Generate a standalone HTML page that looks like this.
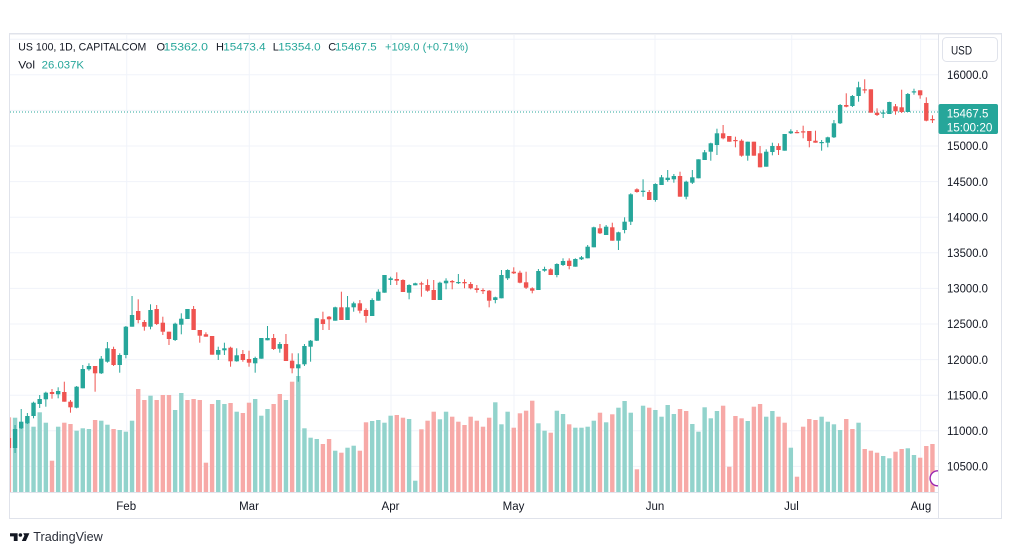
<!DOCTYPE html>
<html>
<head>
<meta charset="utf-8">
<style>
html,body{margin:0;padding:0;background:#fff;width:1012px;height:555px;overflow:hidden;}
svg{position:absolute;left:0;top:0;}
</style>
</head>
<body>
<svg id="s" width="1012" height="555" viewBox="0 0 1012 555" font-family="'Liberation Sans', sans-serif">
<defs><clipPath id="plot"><rect x="10" y="34" width="928" height="458"/></clipPath></defs>
<rect width="1012" height="555" fill="#fff"/>
<!-- grid -->
<g stroke="#f0f3fa" stroke-width="1">
<line x1="10" x2="938" y1="39.2" y2="39.2"/>
<line x1="10" x2="938" y1="74.8" y2="74.8"/>
<line x1="10" x2="938" y1="110.4" y2="110.4"/>
<line x1="10" x2="938" y1="146" y2="146"/>
<line x1="10" x2="938" y1="181.6" y2="181.6"/>
<line x1="10" x2="938" y1="217.2" y2="217.2"/>
<line x1="10" x2="938" y1="252.8" y2="252.8"/>
<line x1="10" x2="938" y1="288.4" y2="288.4"/>
<line x1="10" x2="938" y1="324" y2="324"/>
<line x1="10" x2="938" y1="359.6" y2="359.6"/>
<line x1="10" x2="938" y1="395.2" y2="395.2"/>
<line x1="10" x2="938" y1="430.8" y2="430.8"/>
<line x1="10" x2="938" y1="466.4" y2="466.4"/>
<line y1="34" y2="492" x1="126.7" x2="126.7"/>
<line y1="34" y2="492" x1="249.3" x2="249.3"/>
<line y1="34" y2="492" x1="391" x2="391"/>
<line y1="34" y2="492" x1="514" x2="514"/>
<line y1="34" y2="492" x1="655" x2="655"/>
<line y1="34" y2="492" x1="791.7" x2="791.7"/>
<line y1="34" y2="492" x1="920.6" x2="920.6"/>
</g>
<g id="vol" clip-path="url(#plot)"></g>
<line x1="10" x2="938" y1="112" y2="112" stroke="#26a69a" stroke-width="1" stroke-dasharray="1 2"/>
<g id="cdl" clip-path="url(#plot)"></g>
<g clip-path="url(#plot)"><circle cx="937.6" cy="478.3" r="7.5" fill="#fff" stroke="#9c27b0" stroke-width="1.4"/></g>
<!-- frame and axes -->
<rect x="9.5" y="33.5" width="992" height="485" fill="none" stroke="#e0e3eb"/>
<line x1="10" x2="1001" y1="34.5" y2="34.5" stroke="#f0f1f4"/>
<line x1="938.5" y1="34" x2="938.5" y2="518" stroke="#e0e3eb"/>
<line x1="10" x2="938" y1="492.5" y2="492.5" stroke="#e0e3eb"/>
<!-- legend -->
<g font-size="11" fill="#131722">
<text x="18.3" y="50.7" textLength="128" lengthAdjust="spacingAndGlyphs">US 100, 1D, CAPITALCOM</text>
<text x="156.5" y="50.7">O</text>
<text x="163.5" y="50.7" fill="#26a69a" textLength="44.5" lengthAdjust="spacingAndGlyphs">15362.0</text>
<text x="216" y="50.7">H</text>
<text x="223.3" y="50.7" fill="#26a69a" textLength="42.3" lengthAdjust="spacingAndGlyphs">15473.4</text>
<text x="272.7" y="50.7">L</text>
<text x="278.3" y="50.7" fill="#26a69a" textLength="42.3" lengthAdjust="spacingAndGlyphs">15354.0</text>
<text x="328.3" y="50.7">C</text>
<text x="335" y="50.7" fill="#26a69a" textLength="41.7" lengthAdjust="spacingAndGlyphs">15467.5</text>
<text x="385" y="50.7" fill="#26a69a" textLength="83.3" lengthAdjust="spacingAndGlyphs">+109.0 (+0.71%)</text>
<text x="18.3" y="68.3" textLength="16.7" lengthAdjust="spacingAndGlyphs">Vol</text>
<text x="41.7" y="68.3" fill="#26a69a" textLength="42.3" lengthAdjust="spacingAndGlyphs">26.037K</text>
</g>
<!-- price axis -->
<rect x="942.5" y="37.5" width="55" height="24" rx="4" fill="#fff" stroke="#e0e3eb"/>
<text x="951" y="54.5" font-size="12" fill="#131722" textLength="21" lengthAdjust="spacingAndGlyphs">USD</text>
<g font-size="12" fill="#131722">
<text x="947" y="79" textLength="41" lengthAdjust="spacingAndGlyphs">16000.0</text>
<text x="947" y="150.2" textLength="41" lengthAdjust="spacingAndGlyphs">15000.0</text>
<text x="947" y="185.8" textLength="41" lengthAdjust="spacingAndGlyphs">14500.0</text>
<text x="947" y="221.4" textLength="41" lengthAdjust="spacingAndGlyphs">14000.0</text>
<text x="947" y="257" textLength="41" lengthAdjust="spacingAndGlyphs">13500.0</text>
<text x="947" y="292.6" textLength="41" lengthAdjust="spacingAndGlyphs">13000.0</text>
<text x="947" y="328.2" textLength="41" lengthAdjust="spacingAndGlyphs">12500.0</text>
<text x="947" y="363.8" textLength="41" lengthAdjust="spacingAndGlyphs">12000.0</text>
<text x="947" y="399.4" textLength="41" lengthAdjust="spacingAndGlyphs">11500.0</text>
<text x="947" y="435" textLength="41" lengthAdjust="spacingAndGlyphs">11000.0</text>
<text x="947" y="470.6" textLength="41" lengthAdjust="spacingAndGlyphs">10500.0</text>
</g>
<rect x="938.5" y="104" width="59.5" height="30" rx="2" fill="#26a69a"/>
<text x="946.7" y="117.5" font-size="12" fill="#fff" textLength="41.7" lengthAdjust="spacingAndGlyphs">15467.5</text>
<text x="946.7" y="131.7" font-size="12" fill="#fff" textLength="45.7" lengthAdjust="spacingAndGlyphs">15:00:20</text>
<!-- time axis -->
<g font-size="11.5" fill="#131722" text-anchor="middle">
<text x="126.2" y="510">Feb</text>
<text x="249" y="510">Mar</text>
<text x="390.5" y="510">Apr</text>
<text x="513.5" y="510">May</text>
<text x="655" y="510">Jun</text>
<text x="791.5" y="510">Jul</text>
<text x="921" y="510">Aug</text>
</g>
<!-- footer logo -->
<g fill="#131722">
<path d="M10 533.3 H17.6 V541 H13.8 V536.4 H10 Z"/>
<circle cx="20.4" cy="535" r="1.8"/>
<path d="M23.2 533.3 H29.4 L25.9 541 H21.8 L24.4 535.6 Z"/>
</g>
<text x="33.3" y="541" font-size="12.5" fill="#2a2e39" textLength="69.4" lengthAdjust="spacingAndGlyphs">TradingView</text>
</svg>
<script>
const C=[
[438,448,436,450,0],[429,448,425,453,1],[421.7,428.3,409,429,1],[416,423.3,413,424,1],[402.7,416,401.7,418.3,1],
[399,404,395,408,1],[392.7,399.3,391.7,406.7,1],[392,394,389,398.7,0],[391,394.3,387.3,398.3,1],[392,401.7,381.7,401.7,0],
[401.7,407.3,400,412.7,0],[386.7,407.7,386,408.3,1],[369,388.3,365,388.3,1],[366,369.3,363.3,370.7,1],[366,373.3,366,391.7,0],
[358.7,373.3,356,374,1],[348.3,361.7,342,362.7,1],[349,365,346.7,366,0],[355,365,353.3,372.7,1],[326.7,355,326,358.3,1],
[315,326.7,296,326.7,1],[311,320,299.3,323.3,0],[322,326.7,320,330.7,0],[310,326.7,304.3,329.3,1],[309,324,305,325,0],
[322.7,331.7,316.7,335,0],[331.7,339,331.7,345,0],[323.7,340,322.7,341,1],[318.7,324.7,313.3,334.3,1],[309,319,309,319,1],
[309,330,306,330,0],[330,335.7,330,342.7,0],[334.3,336.7,332.3,336.7,0],[336,354.7,336,354.7,0],[350,354.7,346.7,360,1],
[348.3,350.3,342.7,355,1],[347.7,361.3,346.7,366.7,0],[355.3,361.3,348.3,361.7,1],[354,360,350,361.7,0],[359,362.7,350.7,366.7,0],
[358,363.3,356.7,372.7,1],[338,358.7,338,358.7,1],[338,340.3,326,340.3,1],[338,349,334,350,0],[344,348.7,342,352.7,1],
[344,361,334,361,0],[360.7,368.3,353.3,373.3,0],[364.3,368.3,353.3,381.7,1],[346,364.3,344,366,1],[340.7,346.7,340,361.7,1],
[318.3,340.7,318,341,1],[319.3,324,311.7,330,0],[316.7,319.3,316,330,0],[307.3,320.7,306.7,320.7,1],[307.3,320,291.7,320,0],
[307.3,320,296,320,1],[303.3,307.3,301.7,311.7,1],[303.3,310.7,300,313.3,0],[310,316,308.3,322.7,0],[300,316,298.3,316,1],
[291.7,300.7,289.3,300.7,1],[275,292.7,275,292.7,1],[278.3,280,276.7,285,1],[279,280.7,272.3,285,0],[280,292,279.3,292,0],
[285,292.7,284.3,299.3,1],[283.3,285.3,282.7,285.3,1],[283.3,284,281.7,296.7,0],[285,290.7,279.3,291.7,0],[290,300,280,300,0],
[282.7,300,281.7,300,1],[280.7,283.3,278.3,289.3,1],[281,282.3,280,289.3,0],[282,282.7,274,284,1],[282,283.3,279.3,288.3,0],
[284,288.3,282,289.3,0],[288.3,290,285,292.7,0],[290,291,288.3,294,0],[290.7,300.7,290,307.3,0],[297.3,300,296.7,303.3,1],
[275,298.3,270,298.3,1],[270,278.3,269.3,280,1],[271.7,273.3,267.3,274,0],[272.7,282.7,270.7,283.3,0],[282.3,287.7,271.7,289,0],
[288.3,290.7,287.3,293.3,0],[271,290,269,290,1],[269,270.7,266.7,271.7,1],[269.3,275,268.3,275,0],[264,275,263.3,277.3,1],
[261,265,258.3,266,1],[260.7,266,258.3,269.3,0],[259,266.7,258.3,266.7,1],[257.3,259.3,256,260,1],[246.7,258.3,245,258.3,1],
[227.3,247.3,226.7,247.3,1],[228.3,233.3,224,234,0],[226.7,235,225,235,1],[227.3,240.7,222.7,240.7,0],[232.3,240.7,231.7,250,1],
[221.7,230,217.3,233.3,1],[194.3,221.7,193.3,225,1],[189.3,192,188.3,192.7,0],[190.7,191.7,179.3,196.7,1],[192,200,190,200,0],
[184,200,183.3,201.7,1],[177.3,185,175,185,1],[177.7,180,170,181.7,1],[176,179.3,174,182.7,1],[176,196.7,171.7,196.7,0],
[181.7,196.7,180.7,199.3,1],[177.3,182.7,170,184,1],[159.3,178.3,159.3,178.3,1],[152.3,160,150,160,1],[143.3,151.7,142.7,160.7,1],
[133.3,145,128.7,155,1],[133.3,138.3,125,139.3,0],[136,141.7,136,141.7,0],[140,140.7,136.7,147.3,0],[140.7,155.7,139.3,156.7,0],
[141.7,155.7,141.7,160.7,1],[141.7,155.7,141.7,155.7,0],[153.3,167.3,146,167.3,0],[151.7,166.7,149.3,166.7,1],[146,152,142.7,155.3,1],
[146,150,143.3,155,0],[134,150.7,134,150.7,1],[131.3,133.3,129.3,134,1],[132,132.7,130,133.3,0],[131.3,132,125.7,138.3,0],
[131,141,131,147.3,0],[140.7,142.7,130.7,142.7,0],[142,142.7,140,150.7,1],[137.3,142.7,136.7,147.3,1],[123.3,137.3,120,138,1],
[105,123.3,104,124,1],[105,106.7,93.3,107.3,0],[96,106,95,107,1],[87.3,96,81.7,101.7,1],[89.3,90,79.3,93.3,0],
[89.3,112.7,89.3,112.7,0],[112.7,115,108.3,116,0],[112.5,113.5,109.7,118,1],[102,114,101.7,114,1],[106.3,111.3,104,114.7,0],
[107.3,112,89.7,113,0],[94,112,93,112,1],[91.3,92.3,88.7,94.7,1],[90.3,95.3,90.3,98.7,0],[103,120.7,97.3,121.3,0],
[119,120.3,115.3,123,0]
];
const V=[
[417.3,0],[417.7,1],[423.3,1],[418.3,1],[426.7,1],[412.3,1],[422.7,1],[460.7,0],[426.7,1],[422.7,0],
[424,0],[430.7,1],[428.3,1],[429,1],[420,0],[420.7,1],[424.7,1],[429,0],[430,1],[431.7,1],
[420.7,1],[389,0],[400,0],[395.7,1],[400,0],[395,0],[395,0],[410,1],[393,1],[400,0],
[399,0],[400,0],[462.7,0],[404,0],[400,1],[404,1],[403,0],[411.7,1],[413,0],[402.7,0],
[399,1],[415.7,1],[409,1],[404,0],[394,0],[400,1],[381.7,0],[376,1],[428.3,1],[437.7,1],
[439,1],[444,0],[439,0],[450.7,1],[452.7,0],[447.7,1],[445.7,1],[450.7,0],[422.3,0],[421,1],
[420,1],[422.7,1],[415.7,1],[415,0],[417.7,0],[419,1],[480.7,1],[429.3,0],[420.7,0],[411.7,0],
[419.3,1],[411.7,1],[416.7,0],[421.7,0],[425,0],[416.7,0],[420.7,0],[426.7,0],[417.7,0],[402.3,1],
[424.3,1],[411.7,1],[427.7,0],[413.3,0],[410.7,0],[400.7,0],[423.3,1],[430.7,1],[432.7,0],[410.7,1],
[414,1],[424.3,0],[427.7,1],[427.7,1],[426.7,1],[420.7,1],[412.7,0],[422.3,1],[414.3,0],[407.7,1],
[401,1],[412.7,1],[469.3,0],[405.7,1],[407.7,0],[410,1],[416.7,1],[405,1],[414,1],[409,0],
[411,0],[424,1],[431.7,1],[407.3,1],[418.3,1],[411,1],[405.7,0],[466.7,0],[416,0],[418.3,0],
[421,1],[406.7,0],[404,0],[416.7,1],[411,1],[416.7,0],[422.7,0],[447.7,1],[476.7,0],[426.7,0],
[419,0],[420,0],[416.7,1],[421.7,1],[424.3,1],[430,1],[419,0],[429,0],[422.7,1],[449,0],
[450.7,0],[452.7,0],[456,1],[458.3,1],[451.7,0],[449,0],[448.3,1],[455,1],[457.7,0],[446,0],
[444,0]
];
const ns="http://www.w3.org/2000/svg";
function el(p,t,a){const e=document.createElementNS(ns,t);for(const k in a)e.setAttribute(k,a[k]);p.appendChild(e);return e;}
const vg=document.getElementById('vol'),cg=document.getElementById('cdl');
const W=4.4,X0=8.9,DX=6.157;
V.forEach((v,k)=>{const x=X0+k*DX;el(vg,'rect',{x:(x-W/2).toFixed(2),y:v[0],width:W,height:(492-v[0]).toFixed(2),fill:v[1]?'#92d3cc':'#f7a9a7'});});
C.forEach((c,k)=>{const x=X0+k*DX;const col=c[4]?'#26a69a':'#ef5350';
el(cg,'rect',{x:(x-0.5).toFixed(2),y:c[2],width:1,height:Math.max(1,c[3]-c[2]).toFixed(2),fill:col});
let h=c[1]-c[0];if(h<1.2)h=1.2;
el(cg,'rect',{x:(x-W/2).toFixed(2),y:c[0],width:W,height:h.toFixed(2),fill:col});});
</script>
</body>
</html>
